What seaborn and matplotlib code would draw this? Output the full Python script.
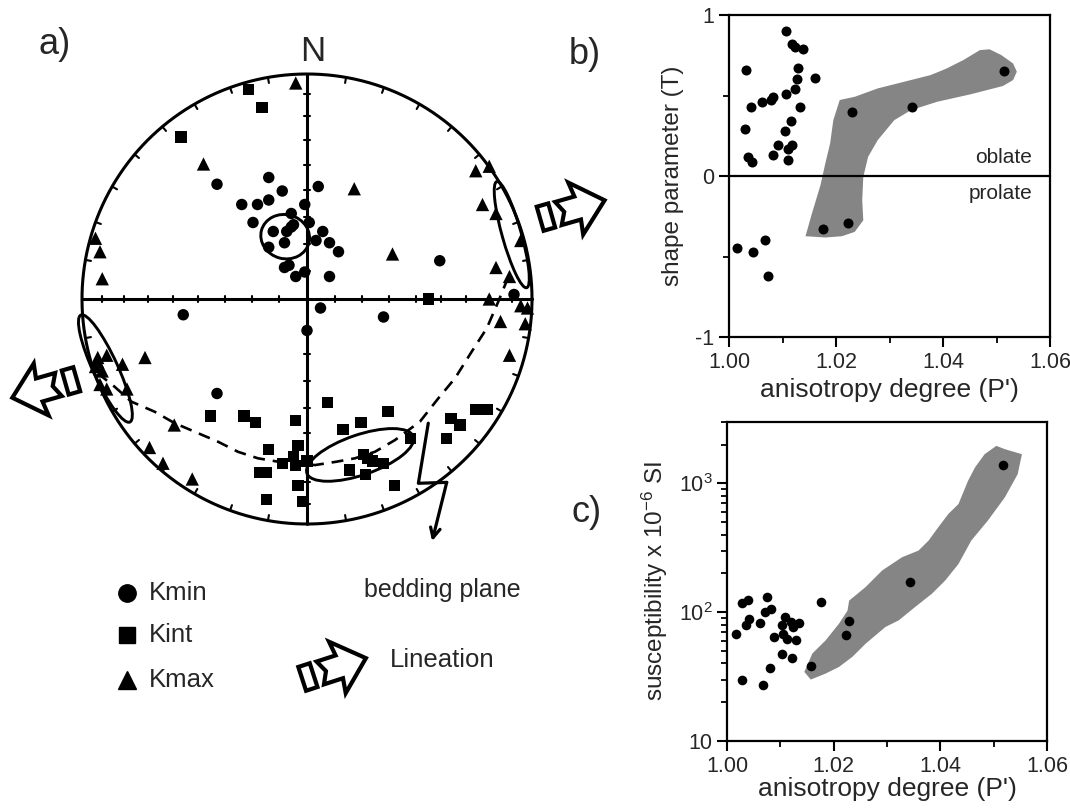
import numpy as np
import pandas as pd
import matplotlib
matplotlib.use("Agg")
import matplotlib.pyplot as plt
from matplotlib.patches import Ellipse, Polygon
from matplotlib.ticker import LogLocator, NullFormatter
import seaborn as sns

# ---------------- data ----------------
# a) stereonet, equal-area lower hemisphere, unit-circle coordinates
kmin_x = [-0.40, -0.17, -0.11, -0.17, -0.22, -0.29, -0.24, -0.15, -0.07, -0.01, -0.09,
          -0.07, -0.06, -0.10, -0.17, -0.10, -0.08, -0.05, -0.01, 0.05, 0.01, 0.07,
          0.04, 0.10, 0.14, 0.10, 0.59, 0.92, -0.55, -0.40, 0.00, 0.06, 0.34]
kmin_y = [0.51, 0.54, 0.48, 0.44, 0.42, 0.42, 0.34, 0.30, 0.38, 0.42, 0.30,
          0.32, 0.33, 0.25, 0.23, 0.14, 0.15, 0.10, 0.12, 0.50, 0.34, 0.30,
          0.26, 0.25, 0.21, 0.10, 0.17, 0.02, -0.07, -0.42, -0.14, -0.04, -0.08]

kint_x = [-0.26, -0.20, -0.56, 0.54, -0.43, -0.28, -0.23, -0.05, -0.17, -0.04, -0.06,
          -0.05, -0.11, 0.00, -0.21, -0.18, -0.04, -0.18, -0.02, 0.09, 0.36, 0.24,
          0.16, 0.64, 0.68, 0.75, 0.80, 0.62, 0.46, 0.25, 0.27, 0.29, 0.34, 0.19,
          0.26, 0.39]
kint_y = [0.93, 0.85, 0.72, 0.00, -0.52, -0.52, -0.55, -0.54, -0.67, -0.65, -0.70,
          -0.74, -0.73, -0.72, -0.77, -0.77, -0.83, -0.89, -0.90, -0.46, -0.50, -0.55,
          -0.58, -0.53, -0.56, -0.49, -0.49, -0.62, -0.62, -0.69, -0.71, -0.72, -0.73,
          -0.76, -0.78, -0.83]

kmax_x = [-0.05, -0.46, -0.94, -0.92, -0.91, 0.21, 0.75, 0.81, 0.78, 0.84, 0.95, 0.38,
          0.84, 0.90, -0.93, -0.93, -0.94, -0.91, -0.89, -0.82, -0.72, -0.92, -0.89,
          -0.80, -0.59, -0.70, -0.64, -0.51, 0.81, 0.86, 0.97, 0.90, 0.95, 0.98]
kmax_y = [0.96, 0.60, 0.27, 0.21, 0.09, 0.49, 0.57, 0.59, 0.42, 0.38, 0.26, 0.20,
          0.14, 0.10, -0.26, -0.28, -0.30, -0.32, -0.25, -0.29, -0.26, -0.38, -0.40,
          -0.40, -0.56, -0.66, -0.73, -0.80, 0.00, -0.10, -0.11, -0.25, -0.03, -0.04]

# 95% confidence ellipses: centre x, centre y, width, height, angle
conf_names = ["Kmin", "Kint", "Kmax W", "Kmax E"]
conf_cx = [-0.097, 0.236, -0.896, 0.910]
conf_cy = [0.277, -0.693, -0.309, 0.286]
conf_w = [0.218, 0.50, 0.523, 0.49]
conf_h = [0.196, 0.178, 0.110, 0.085]
conf_ang = [-15, 19, -65.4, -74.3]

# bedding plane trace (dashed)
bed_x = [-0.93, -0.855, -0.781, -0.677, -0.588, -0.499, -0.396, -0.307, -0.218, -0.129,
         -0.031, 0.036, 0.132, 0.213, 0.302, 0.391, 0.502, 0.584, 0.658, 0.732, 0.799,
         0.850, 0.889]
bed_y = [-0.33, -0.390, -0.456, -0.501, -0.552, -0.590, -0.634, -0.679, -0.708, -0.723,
         -0.733, -0.738, -0.723, -0.708, -0.679, -0.627, -0.545, -0.441, -0.352, -0.234,
         -0.130, -0.012, 0.084]

# b) shape parameter vs anisotropy degree
pj_b = [1.0106, 1.0118, 1.0124, 1.0138, 1.0032, 1.0129, 1.0161, 1.0128, 1.0124, 1.0107,
        1.0083, 1.0078, 1.0062, 1.0042, 1.0133, 1.0030, 1.0115, 1.0105, 1.0092, 1.0117,
        1.0111, 1.0083, 1.0035, 1.0043, 1.0110, 1.0015, 1.0045, 1.0068, 1.0073,
        1.0230, 1.0342, 1.0514, 1.0175, 1.0223]
t_b = [0.90, 0.82, 0.80, 0.79, 0.66, 0.67, 0.61, 0.60, 0.54, 0.51,
       0.49, 0.47, 0.46, 0.43, 0.43, 0.29, 0.34, 0.28, 0.19, 0.19,
       0.17, 0.13, 0.12, 0.09, 0.10, -0.45, -0.47, -0.40, -0.62,
       0.40, 0.43, 0.65, -0.33, -0.29]
field_b_x = [1.0143, 1.0155, 1.0171, 1.0180, 1.0189, 1.0195, 1.0207, 1.0235, 1.0278,
             1.0327, 1.0377, 1.0407, 1.0438, 1.0469, 1.0487, 1.0509, 1.0531, 1.0538,
             1.0531, 1.0512, 1.0451, 1.0389, 1.0340, 1.0309, 1.0278, 1.0260, 1.0251,
             1.0249, 1.0251, 1.0235, 1.0211, 1.0180]
field_b_y = [-0.374, -0.233, -0.057, 0.078, 0.202, 0.347, 0.472, 0.492, 0.544,
             0.585, 0.627, 0.668, 0.720, 0.782, 0.787, 0.751, 0.699, 0.648,
             0.596, 0.559, 0.507, 0.461, 0.409, 0.347, 0.223, 0.119, -0.005,
             -0.150, -0.275, -0.347, -0.374, -0.382]

# c) bulk susceptibility vs anisotropy degree
pj_c = [1.0016, 1.0029, 1.0040, 1.0035, 1.0042, 1.0029, 1.0061, 1.0075, 1.0071, 1.0083,
        1.0089, 1.0081, 1.0067, 1.0109, 1.0104, 1.0120, 1.0124, 1.0135, 1.0105, 1.0113,
        1.0130, 1.0103, 1.0122, 1.0176, 1.0158, 1.0224, 1.0229, 1.0344, 1.0517]
km_c = [68, 118, 124, 80, 88, 30, 83, 131, 100, 106,
        64, 37, 27, 91, 79, 84, 77, 82, 68, 62,
        61, 47, 44, 120, 38, 66, 85, 171, 1390]
field_c_x = [1.0145, 1.0160, 1.0185, 1.0210, 1.0226, 1.0229, 1.0260, 1.0291, 1.0328,
             1.0359, 1.0378, 1.0396, 1.0415, 1.0434, 1.0452, 1.0465, 1.0483, 1.0505,
             1.0521, 1.0553, 1.0545, 1.0521, 1.0489, 1.0458, 1.0434, 1.0409, 1.0384,
             1.0353, 1.0322, 1.0297, 1.0260, 1.0235, 1.0210, 1.0185, 1.0157]
field_c_y = [34.4, 47.8, 60.5, 81.5, 103, 123, 157, 211, 267,
             301, 360, 456, 579, 692, 1049, 1331, 1687, 1958,
             1845, 1687, 1180, 780, 514, 360, 237, 176, 139,
             110, 86.5, 76.8, 57.0, 45.0, 37.6, 33.4, 30.0]

# ---------------- style ----------------
sns.set_style("ticks")
plt.rcParams["font.family"] = ["Liberation Sans", "DejaVu Sans"]
plt.rcParams["mathtext.fontset"] = "custom"
plt.rcParams["mathtext.rm"] = "Liberation Sans"
plt.rcParams["mathtext.it"] = "Liberation Sans"
plt.rcParams["axes.unicode_minus"] = False

fig = plt.figure(figsize=(10.7, 8.11), dpi=100)
W, H = 1070, 811
GRAY = "#858585"


def lineation(ax, cx, cy, ang, k=1 / 225):
    """open block arrow with a small bar behind it (pixel-sized shape)"""
    bar = np.array([[-6, -12.5], [6, -12.5], [6, 12.5], [-6, 12.5]])
    arr = np.array([[13, 12], [33, 12], [31, 27], [61, 0], [31, -27], [33, -12],
                    [13, -12], [19, 0]])
    a = np.radians(ang)
    rot = np.array([[np.cos(a), -np.sin(a)], [np.sin(a), np.cos(a)]])
    for shp in (bar, arr):
        pts = shp @ rot.T * k + [cx, cy]
        ax.add_patch(Polygon(pts, closed=True, fill=False, lw=3,
                             joinstyle="miter", color="black"))


# ---------------- a) stereonet ----------------
R = 225.0
ax_a = fig.add_axes([0, 0, 640 / W, 1])
ax_a.set_xlim((0 - 307) / R, (640 - 307) / R)
ax_a.set_ylim((299 - H) / R, 299 / R)
ax_a.axis("off")

th = np.linspace(0, 2 * np.pi, 400)
ax_a.plot(np.cos(th), np.sin(th), color="black", lw=2.2)
ax_a.plot([-1, 1], [0, 0], color="black", lw=2.2)
ax_a.plot([0, 0], [-1, 1], color="black", lw=2.2)
for az in range(0, 360, 10):
    if az % 90 == 0:
        continue
    s, c = np.sin(np.radians(az)), np.cos(np.radians(az))
    ax_a.plot([s, 0.975 * s], [c, 0.975 * c], color="black", lw=1.5)
for t in range(10, 90, 10):
    r = np.sqrt(2) * np.sin(np.radians(t) / 2)
    for sgn in (-1, 1):
        ax_a.plot([sgn * r, sgn * r], [-0.014, 0.014], color="black", lw=1.5)
        ax_a.plot([-0.014, 0.014], [sgn * r, sgn * r], color="black", lw=1.5)

ax_a.plot(bed_x, bed_y, color="black", lw=1.9, dashes=(4.5, 3))
for cx, cy, w, h, an in zip(conf_cx, conf_cy, conf_w, conf_h, conf_ang):
    ax_a.add_patch(Ellipse((cx, cy), w, h, angle=an, fill=False, lw=2.1,
                           color="black"))

stereo = pd.concat([
    pd.DataFrame({"x": kmin_x, "y": kmin_y, "axis": "Kmin"}),
    pd.DataFrame({"x": kint_x, "y": kint_y, "axis": "Kint"}),
    pd.DataFrame({"x": kmax_x, "y": kmax_y, "axis": "Kmax"}),
], ignore_index=True)
sns.scatterplot(data=stereo, x="x", y="y", style="axis", size="axis",
                markers={"Kmin": "o", "Kint": "s", "Kmax": "^"},
                sizes={"Kmin": 68, "Kint": 66, "Kmax": 92},
                color="black", linewidth=0, legend=False, ax=ax_a, zorder=4)
ax_a.set_xlabel("")
ax_a.set_ylabel("")

ax_a.text(0.027, 1.098, "N", fontsize=25, ha="center", va="center")

# bedding plane pointer
ax_a.plot([0.539, 0.495, 0.621], [-0.552, -0.819, -0.815], color="black", lw=2.3)
ax_a.annotate("", xy=(0.556, -1.076), xytext=(0.621, -0.815),
              arrowprops=dict(arrowstyle="->,head_length=0.7,head_width=0.35",
                              lw=2.3, color="black", shrinkA=0, shrinkB=0))
ax_a.text(0.60, -1.293, "bedding plane", fontsize=18, ha="center", va="center")

# lineation arrows
lineation(ax_a, 1.062, 0.364, 16)
lineation(ax_a, -1.049, -0.364, 196)

# legend
leg_y = [-1.307, -1.493, -1.693]
for yy, mk, ms, lab in zip(leg_y, ["o", "s", "^"], [12.5, 12, 13.5], ["Kmin", "Kint", "Kmax"]):
    ax_a.plot(-0.801, yy, marker=mk, ms=ms, color="black", ls="none")
    ax_a.text(-0.702, yy, lab, fontsize=18.5, ha="left", va="center")
lineation(ax_a, 0.004, -1.68, 18)
ax_a.text(0.369, -1.604, "Lineation", fontsize=18.5, ha="left", va="center")

fig.text(55 / W, 1 - 45 / H, "a)", fontsize=26, ha="center", va="center")
fig.text(585 / W, 1 - 55 / H, "b)", fontsize=26, ha="center", va="center")
fig.text(587 / W, 1 - 513 / H, "c)", fontsize=26, ha="center", va="center")


def style_axes(ax):
    for sp in ax.spines.values():
        sp.set_linewidth(1.6)
        sp.set_color("black")
        sp.set_visible(True)
    ax.tick_params(which="major", direction="out", length=7, width=1.5,
                   labelsize=15.5, color="black")
    ax.tick_params(which="minor", direction="out", length=4, width=1.3,
                   color="black")
    ax.set_xlim(1.0, 1.06)
    ax.set_xticks([1.00, 1.02, 1.04, 1.06])
    ax.set_xticklabels(["1.00", "1.02", "1.04", "1.06"])
    ax.set_xticks([1.01, 1.03, 1.05], minor=True)


# ---------------- b) ----------------
ax_b = fig.add_axes([729 / W, 1 - 337 / H, 321 / W, 322 / H])
ax_b.fill(field_b_x, field_b_y, color=GRAY, lw=0, zorder=1)
sns.scatterplot(x=pj_b, y=t_b, color="black", s=52, linewidth=0, ax=ax_b, zorder=3)
ax_b.axhline(0, color="black", lw=1.6, zorder=2)
style_axes(ax_b)
ax_b.set_ylim(-1, 1)
ax_b.set_yticks([-1, 0, 1])
ax_b.set_yticklabels(["-1", "0", "1"])
ax_b.set_yticks([-0.5, 0.5], minor=True)
ax_b.text(1.0567, 0.118, "oblate", fontsize=15, ha="right", va="center")
ax_b.text(1.0567, -0.106, "prolate", fontsize=15, ha="right", va="center")
ax_b.set_xlabel("anisotropy degree (P')", fontsize=19, labelpad=4)
ax_b.set_ylabel("shape parameter (T)", fontsize=17.5, labelpad=8)

# ---------------- c) ----------------
ax_c = fig.add_axes([727 / W, 1 - 741 / H, 320 / W, 319 / H])
ax_c.fill(field_c_x, field_c_y, color=GRAY, lw=0, zorder=1)
sns.scatterplot(x=pj_c, y=km_c, color="black", s=48, linewidth=0, ax=ax_c, zorder=3)
ax_c.set_yscale("log")
style_axes(ax_c)
ax_c.set_ylim(10, 3000)
ax_c.set_yticks([10, 100, 1000])
ax_c.set_yticklabels(["10", "10$^2$", "10$^3$"])
ax_c.yaxis.set_minor_locator(LogLocator(base=10, subs=np.arange(2, 10)))
ax_c.yaxis.set_minor_formatter(NullFormatter())
ax_c.set_xlabel("anisotropy degree (P')", fontsize=19, labelpad=0)
ax_c.set_ylabel("susceptibility x 10$^{-6}$ SI", fontsize=17.5, labelpad=6)

fig.savefig("out.png", dpi=100, facecolor="white")
